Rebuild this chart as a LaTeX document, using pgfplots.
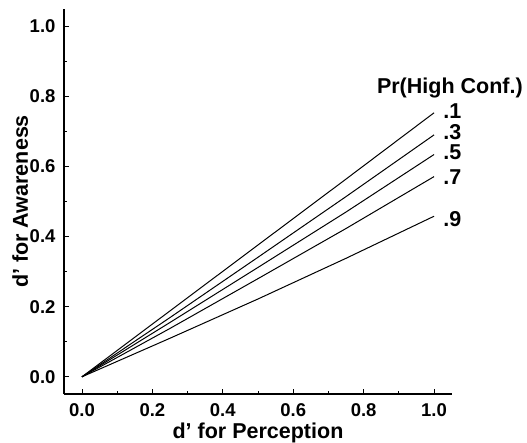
\documentclass[border=0pt]{standalone}
\usepackage{fontspec}
\setmainfont{Liberation Sans}
\usepackage{pgfplots}
\pgfplotsset{compat=1.18}
\begin{document}
\begin{tikzpicture}
\useasboundingbox (-64pt,-48pt) rectangle (463pt,394pt);
\begin{axis}[
  scale only axis, width=388pt, height=385pt,
  xmin=-0.051, xmax=1.051, ymin=-0.049, ymax=1.049,
  axis x line=bottom, axis y line=left,
  axis line style={-, line width=1.2pt},
  xtick={0,0.2,0.4,0.6,0.8,1.0}, ytick={0,0.2,0.4,0.6,0.8,1.0},
  minor tick num=1,
  tick align=inside,
  major tick length=5pt, minor tick length=3.5pt,
  tick style={black, line width=0.8pt},
  /pgf/number format/.cd, fixed, fixed zerofill, precision=1, assume math mode=true, /pgfplots/.cd,
  ticklabel style={font=\fontsize{18.5}{22}\selectfont\bfseries},
  xticklabel style={yshift=-6pt},
  yticklabel style={xshift=-5pt},
  every axis x label/.style={at={(rel axis cs:0.5,0)}, anchor=base, yshift=-44pt, font=\fontsize{21.5}{26}\selectfont\bfseries},
  every axis y label/.style={at={(rel axis cs:0,0.5)}, xshift=-36pt, anchor=base, rotate=90, font=\fontsize{21.5}{26}\selectfont\bfseries},
  xlabel={d’ for Perception},
  ylabel={d’ for Awareness},
  clip=false,
]
\addplot[black, line width=1pt] coordinates {(0,0) (0.25,0.188) (0.5,0.376) (0.75,0.564) (1,0.753)};
\addplot[black, line width=1pt] coordinates {(0,0) (0.25,0.169) (0.5,0.341) (0.75,0.514) (1,0.690)};
\addplot[black, line width=1pt] coordinates {(0,0) (0.25,0.155) (0.5,0.312) (0.75,0.470) (1,0.634)};
\addplot[black, line width=1pt] coordinates {(0,0) (0.25,0.138) (0.5,0.280) (0.75,0.423) (1,0.571)};
\addplot[black, line width=1pt] coordinates {(0,0) (0.25,0.110) (0.5,0.222) (0.75,0.338) (1,0.458)};
\node[font=\fontsize{21.5}{26}\selectfont\bfseries, anchor=center] at (axis cs:1.045,0.823) {Pr(High Conf.)};
\node[font=\fontsize{21.5}{26}\selectfont\bfseries, anchor=west, inner sep=0] at (axis cs:1.026,0.757) {.1};
\node[font=\fontsize{21.5}{26}\selectfont\bfseries, anchor=west, inner sep=0] at (axis cs:1.026,0.697) {.3};
\node[font=\fontsize{21.5}{26}\selectfont\bfseries, anchor=west, inner sep=0] at (axis cs:1.026,0.640) {.5};
\node[font=\fontsize{21.5}{26}\selectfont\bfseries, anchor=west, inner sep=0] at (axis cs:1.026,0.571) {.7};
\node[font=\fontsize{21.5}{26}\selectfont\bfseries, anchor=west, inner sep=0] at (axis cs:1.026,0.451) {.9};
\end{axis}
\end{tikzpicture}
\end{document}
